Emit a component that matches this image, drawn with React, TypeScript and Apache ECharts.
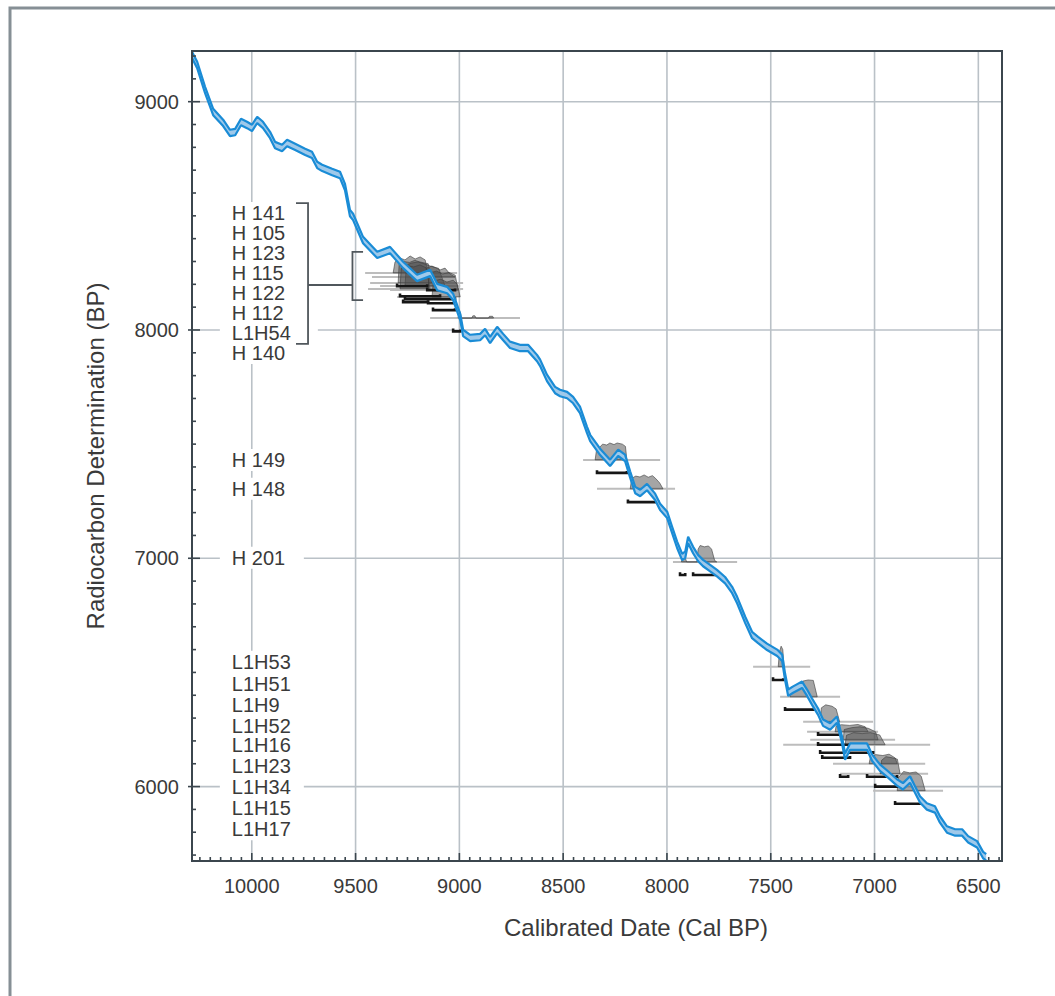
import React, { useEffect, useRef } from "react";
import * as echarts from "echarts";

// ---------- axis extents & ticks ----------
const X_MIN = 6386;
const X_MAX = 10288;
const Y_MIN = 5674;
const Y_MAX = 9222;
const xTickLabels = [10000, 9500, 9000, 8500, 8000, 7500, 7000, 6500];
const yTickLabels = [9000, 8000, 7000, 6000];
const xMinorStep = 50;
const yMinorStep = 100;

// ---------- calibration curve (cal BP, radiocarbon BP) ----------
const curve: [number, number][] = [
  [10288, 9205], [10263, 9161], [10225, 9051], [10186, 8955], [10138, 8907],
  [10105, 8863], [10080, 8867], [10052, 8911], [10023, 8898], [9999, 8885],
  [9974, 8920], [9946, 8898], [9912, 8854], [9888, 8810], [9854, 8797],
  [9830, 8819], [9791, 8802], [9743, 8780], [9710, 8767], [9685, 8723],
  [9661, 8710], [9613, 8692], [9575, 8679], [9551, 8626], [9527, 8512],
  [9512, 8495], [9464, 8394], [9396, 8329], [9334, 8350], [9271, 8285],
  [9204, 8228], [9141, 8250], [9107, 8188], [9059, 8175], [9030, 8145],
  [8996, 8057], [8982, 7987], [8948, 7965], [8900, 7969], [8876, 7991],
  [8852, 7956], [8818, 8000], [8789, 7969], [8756, 7935], [8708, 7921],
  [8669, 7921], [8626, 7877], [8611, 7856], [8578, 7790], [8539, 7737],
  [8515, 7724], [8481, 7715], [8452, 7693], [8419, 7650], [8385, 7562],
  [8370, 7527], [8322, 7466], [8274, 7418], [8235, 7462], [8202, 7440],
  [8177, 7366], [8153, 7299], [8129, 7286], [8096, 7312], [8057, 7269],
  [8033, 7225], [7999, 7190], [7975, 7124], [7951, 7059], [7927, 7006],
  [7912, 7015], [7898, 7080], [7874, 7036], [7850, 7001], [7826, 6979],
  [7792, 6957], [7759, 6935], [7720, 6904], [7686, 6861], [7662, 6817],
  [7623, 6730], [7590, 6664], [7561, 6642], [7518, 6612], [7469, 6586],
  [7445, 6564], [7431, 6481], [7416, 6411], [7392, 6425], [7349, 6446],
  [7325, 6411], [7301, 6372], [7272, 6328], [7248, 6280], [7214, 6263],
  [7181, 6293], [7157, 6206], [7142, 6131], [7118, 6175], [7080, 6175],
  [7036, 6175], [7012, 6127], [6974, 6083], [6935, 6053], [6892, 6018],
  [6863, 6001], [6829, 6031], [6805, 5987], [6781, 5944], [6748, 5913],
  [6709, 5900], [6685, 5856], [6651, 5812], [6612, 5799], [6578, 5799],
  [6549, 5769], [6506, 5747], [6477, 5700], [6462, 5690],
];
const curveSigma = 14;

// ---------- samples: measured age line, its cal extent, probability shape ----------
const sampleBP = [8250, 8232, 8206, 8193, 8180, 8175, 8145, 8052, 7431, 7304, 6984,
  6525, 6393, 6284, 6240, 6205, 6183, 6100, 6056, 5982];
const sampleFrom = [9454, 9421, 9430, 9382, 9440, 9334, 9300, 9141, 8404, 8337, 7971,
  7585, 7455, 7344, 7325, 7310, 7440, 7200, 7166, 7007];
const sampleTo = [9011, 9021, 8982, 8996, 8982, 8996, 9021, 8708, 8033, 7961, 7662,
  7310, 7166, 7007, 6983, 6901, 6732, 6756, 6742, 6670];
const sampleDist: [number, number][][] = [
  [[9319, 8250], [9310, 8298], [9286, 8315], [9262, 8307], [9237, 8324], [9213, 8311], [9189, 8320], [9165, 8307], [9151, 8250]],
  [[9165, 8232], [9160, 8271], [9132, 8280], [9093, 8263], [9069, 8271], [9045, 8245], [9021, 8232]],
  [[9295, 8206], [9290, 8290], [9270, 8300], [9240, 8296], [9215, 8305], [9190, 8298], [9150, 8290], [9132, 8206]],
  [[9262, 8193], [9255, 8285], [9230, 8293], [9200, 8298], [9170, 8290], [9140, 8280], [9100, 8270], [9069, 8193]],
  [[9286, 8180], [9280, 8270], [9250, 8282], [9220, 8276], [9190, 8285], [9160, 8272], [9141, 8180]],
  [[9151, 8175], [9145, 8250], [9110, 8258], [9080, 8245], [9050, 8252], [9020, 8240], [9006, 8175]],
  [[9132, 8145], [9125, 8215], [9090, 8222], [9060, 8210], [9030, 8218], [9010, 8200], [8996, 8145]],
  [[9006, 8052], [9003, 8075], [8996, 8080], [8990, 8052], [8940, 8052], [8935, 8062], [8925, 8062], [8920, 8052], [8860, 8052], [8855, 8060], [8840, 8060], [8835, 8052]],
  [[8346, 7431], [8340, 7470], [8322, 7488], [8310, 7500], [8290, 7496], [8275, 7505], [8255, 7498], [8240, 7505], [8215, 7500], [8200, 7490], [8193, 7431]],
  [[8177, 7304], [8170, 7350], [8150, 7360], [8130, 7356], [8110, 7365], [8090, 7355], [8070, 7362], [8055, 7350], [8035, 7330], [8019, 7304]],
  [[7930, 6984], [7927, 7002], [7912, 7002], [7905, 6984], [7855, 6984], [7850, 7040], [7840, 7056], [7820, 7050], [7800, 7054], [7785, 7040], [7770, 6990], [7760, 6984]],
  [[7464, 6525], [7458, 6590], [7450, 6615], [7442, 6600], [7436, 6525]],
  [[7407, 6393], [7402, 6435], [7380, 6441], [7360, 6438], [7345, 6462], [7320, 6467], [7295, 6465], [7276, 6393]],
  [[7262, 6284], [7256, 6345], [7235, 6358], [7205, 6352], [7185, 6340], [7168, 6284]],
  [[7190, 6240], [7185, 6265], [7160, 6271], [7120, 6268], [7080, 6272], [7045, 6262], [7031, 6240]],
  [[7151, 6205], [7146, 6250], [7110, 6258], [7070, 6262], [7030, 6255], [6995, 6240], [6983, 6205]],
  [[7142, 6183], [7135, 6225], [7100, 6236], [7060, 6232], [7020, 6236], [6975, 6226], [6949, 6183]],
  [[7026, 6100], [7020, 6130], [6995, 6140], [6960, 6136], [6930, 6142], [6900, 6125], [6891, 6100]],
  [[6973, 6056], [6966, 6115], [6945, 6131], [6915, 6126], [6890, 6120], [6877, 6056]],
  [[6891, 5982], [6884, 6040], [6860, 6066], [6830, 6060], [6800, 6064], [6775, 6045], [6756, 5982]],
];

// ---------- calibrated ranges: [from cal, to cal, level BP] ----------
const ranges: [number, number, number][] = [
  [9300, 9155, 8192], [9155, 9021, 8174], [9286, 9093, 8148], [9262, 9021, 8135],
  [9271, 9151, 8122], [9151, 9021, 8117], [9127, 9021, 8087], [9030, 8996, 7994],
  [8337, 8193, 7374], [8188, 8043, 7246],
  [7937, 7912, 6927], [7874, 7754, 6927],
  [7489, 7440, 6467], [7431, 7286, 6337], [7272, 7166, 6227], [7272, 7118, 6183],
  [7262, 7007, 6148], [7252, 7118, 6126], [7166, 7127, 6043], [7036, 6891, 6043],
  [6997, 6891, 6000], [6901, 6771, 5925],
];

// ---------- sample labels ----------
const labelNames = ["H 141", "H 105", "H 123", "H 115", "H 122", "H 112", "L1H54", "H 140",
  "H 149", "H 148", "H 201",
  "L1H53", "L1H51", "L1H9", "L1H52", "L1H16", "L1H23", "L1H34", "L1H15", "L1H17"];
const labelBP = [8512, 8425, 8337, 8250, 8162, 8075, 7987, 7899,
  7431, 7304, 7002,
  6547, 6451, 6359, 6267, 6180, 6088, 6000, 5905, 5813];
const labelCal = 10096;

// ---------- grouping brackets ----------
const brackets: [number, number][][] = [
  [[9787, 8556], [9729, 8556], [9729, 7939], [9787, 7939]],
  [[9729, 8197], [9515, 8197]],
  [[9464, 8342], [9515, 8342], [9515, 8131], [9464, 8131]],
];

const FONT = '"Liberation Sans", Arial, Helvetica, sans-serif';
const TEXT_COLOR = "#3a3a3a";
const GRID_COLOR = "#bac1c7";
const FRAME_COLOR = "#3b464e";
const BLUE = "#1a8cd6";

function seg(a: number[], b: number[], style: any) {
  return { type: "line", shape: { x1: a[0], y1: a[1], x2: b[0], y2: b[1] }, style };
}

function buildOption(): any {
  const upper = curve.map(([c, b]) => [c, b + curveSigma]);
  const lower = curve.map(([c, b]) => [c, b - curveSigma]);
  const single = [[X_MAX, Y_MAX]];

  const gridSeries = {
    type: "custom",
    coordinateSystem: "cartesian2d",
    silent: true,
    z: 1,
    data: single,
    renderItem: (_p: any, api: any) => {
      const children: any[] = [];
      const st = { stroke: GRID_COLOR, lineWidth: 1.6 };
      xTickLabels.forEach((v) => children.push(seg(api.coord([v, Y_MIN]), api.coord([v, Y_MAX]), st)));
      yTickLabels.forEach((v) => children.push(seg(api.coord([X_MAX, v]), api.coord([X_MIN, v]), st)));
      return { type: "group", children };
    },
  };

  const greyLineSeries = {
    type: "custom",
    coordinateSystem: "cartesian2d",
    silent: true,
    z: 3,
    data: sampleBP.map((bp, i) => [sampleFrom[i], bp, sampleTo[i]]),
    renderItem: (_p: any, api: any) =>
      seg(api.coord([api.value(0), api.value(1)]), api.coord([api.value(2), api.value(1)]), {
        stroke: "#bdbdbd",
        lineWidth: 2,
      }),
  };

  const distSeries = {
    type: "custom",
    coordinateSystem: "cartesian2d",
    silent: true,
    z: 4,
    data: sampleBP.map((bp, i) => [sampleFrom[i], bp]),
    renderItem: (p: any, api: any) => ({
      type: "polygon",
      shape: { points: sampleDist[p.dataIndex].map((pt) => api.coord(pt)) },
      style: { fill: "rgba(75,75,75,0.5)", stroke: "rgba(60,60,60,0.6)", lineWidth: 1 },
    }),
  };

  const rangeSeries = {
    type: "custom",
    coordinateSystem: "cartesian2d",
    silent: true,
    z: 5,
    data: ranges.map((r) => [r[0], r[2], r[1]]),
    renderItem: (_p: any, api: any) => {
      const f = api.value(0), bp = api.value(1), t = api.value(2);
      return {
        type: "polyline",
        shape: {
          points: [api.coord([f, bp + 12]), api.coord([f, bp]), api.coord([t, bp]), api.coord([t, bp + 8])],
        },
        style: { stroke: "#161616", lineWidth: 2.6, fill: null },
      };
    },
  };

  const labelSeries = {
    type: "custom",
    coordinateSystem: "cartesian2d",
    silent: true,
    z: 6,
    data: labelBP.map((bp) => [labelCal, bp]),
    renderItem: (p: any, api: any) => {
      const pt = api.coord([api.value(0), api.value(1)]);
      const boxW = p.dataIndex < 8 ? 98 : 84;
      return {
        type: "group",
        children: [
          {
            type: "rect",
            shape: { x: pt[0] - 12, y: pt[1] - 11, width: boxW, height: 22 },
            style: { fill: "#ffffff", stroke: null },
          },
          {
            type: "text",
            x: pt[0],
            y: pt[1],
            style: {
              text: labelNames[p.dataIndex],
              fill: TEXT_COLOR,
              fontSize: 20,
              lineHeight: 18,
              fontFamily: FONT,
              align: "left",
              verticalAlign: "middle",
              textAlign: "left",
              textVerticalAlign: "middle",
            },
          },
        ],
      };
    },
  };

  const bracketSeries = {
    type: "custom",
    coordinateSystem: "cartesian2d",
    silent: true,
    z: 7,
    data: brackets.map((b) => b[0]),
    renderItem: (p: any, api: any) => ({
      type: "polyline",
      shape: { points: brackets[p.dataIndex].map((pt) => api.coord(pt)) },
      style: { stroke: "#50575c", lineWidth: 1.8, fill: null },
    }),
  };

  const bandSeries = {
    type: "custom",
    coordinateSystem: "cartesian2d",
    silent: true,
    z: 8,
    data: single,
    renderItem: (_p: any, api: any) => ({
      type: "polygon",
      shape: { points: upper.map((q) => api.coord(q)).concat(lower.slice().reverse().map((q) => api.coord(q))) },
      style: { fill: "#9fc9ea", stroke: null },
    }),
  };

  const lineStyle = { color: BLUE, width: 2.2 };
  const upperSeries = { type: "line", data: upper, showSymbol: false, silent: true, z: 9, lineStyle };
  const lowerSeries = { type: "line", data: lower, showSymbol: false, silent: true, z: 9, lineStyle };

  const axisSeries = {
    type: "custom",
    coordinateSystem: "cartesian2d",
    silent: true,
    z: 10,
    data: single,
    renderItem: (_p: any, api: any) => {
      const children: any[] = [];
      const tk = { stroke: FRAME_COLOR, lineWidth: 1.6 };
      const bl = api.coord([X_MAX, Y_MIN]);
      const tr = api.coord([X_MIN, Y_MAX]);
      for (let v = Math.ceil(X_MIN / xMinorStep) * xMinorStep; v <= X_MAX; v += xMinorStep) {
        if (xTickLabels.includes(v)) continue;
        const q = api.coord([v, Y_MIN]);
        children.push(seg(q, [q[0], q[1] - 4], tk));
      }
      for (let v = Math.ceil(Y_MIN / yMinorStep) * yMinorStep; v <= Y_MAX; v += yMinorStep) {
        if (yTickLabels.includes(v)) continue;
        const q = api.coord([X_MAX, v]);
        children.push(seg(q, [q[0] + 4, q[1]], tk));
      }
      xTickLabels.forEach((v) => {
        const q = api.coord([v, Y_MIN]);
        children.push(seg(q, [q[0], q[1] - 8], tk));
        children.push({
          type: "text",
          x: q[0],
          y: q[1] + 25,
          style: {
            text: String(v), fill: TEXT_COLOR, fontSize: 20, fontFamily: FONT,
            align: "center", verticalAlign: "middle", textAlign: "center", textVerticalAlign: "middle",
          },
        });
      });
      yTickLabels.forEach((v) => {
        const q = api.coord([X_MAX, v]);
        children.push(seg([q[0] - 4, q[1]], [q[0] + 8, q[1]], tk));
        children.push({
          type: "text",
          x: q[0] - 13,
          y: q[1],
          style: {
            text: String(v), fill: TEXT_COLOR, fontSize: 20, fontFamily: FONT,
            align: "right", verticalAlign: "middle", textAlign: "right", textVerticalAlign: "middle",
          },
        });
      });
      children.push({
        type: "rect",
        shape: { x: bl[0], y: tr[1], width: tr[0] - bl[0], height: bl[1] - tr[1] },
        style: { fill: null, stroke: FRAME_COLOR, lineWidth: 2 },
      });
      return { type: "group", children };
    },
  };

  return {
    animation: false,
    backgroundColor: "#ffffff",
    grid: { left: 192, top: 51, right: 53, bottom: 135 },
    xAxis: {
      type: "value", inverse: true, min: X_MIN, max: X_MAX,
      axisLine: { show: false }, axisTick: { show: false }, axisLabel: { show: false }, splitLine: { show: false },
    },
    yAxis: {
      type: "value", min: Y_MIN, max: Y_MAX,
      axisLine: { show: false }, axisTick: { show: false }, axisLabel: { show: false }, splitLine: { show: false },
    },
    graphic: [
      {
        type: "rect", silent: true, z: 0,
        shape: { x: 10, y: 8, width: 1200, height: 1200 },
        style: { fill: null, stroke: "#868f95", lineWidth: 3 },
      },
      {
        type: "text", x: 636, y: 927, silent: true,
        style: {
          text: "Calibrated Date (Cal BP)", fill: TEXT_COLOR, fontSize: 24, fontFamily: FONT,
          align: "center", verticalAlign: "middle", textAlign: "center", textVerticalAlign: "middle",
        },
      },
      {
        type: "text", x: 95, y: 456, rotation: Math.PI / 2, silent: true,
        style: {
          text: "Radiocarbon Determination (BP)", fill: TEXT_COLOR, fontSize: 24, fontFamily: FONT,
          align: "center", verticalAlign: "middle", textAlign: "center", textVerticalAlign: "middle",
        },
      },
    ],
    series: [gridSeries, greyLineSeries, distSeries, rangeSeries, labelSeries, bracketSeries, bandSeries, upperSeries, lowerSeries, axisSeries],
  };
}

export default function App() {
  const ref = useRef<HTMLDivElement>(null);
  useEffect(() => {
    document.body.style.margin = "0";
    const chart = echarts.init(ref.current as HTMLDivElement, undefined, { renderer: "svg" });
    chart.setOption(buildOption());
    return () => chart.dispose();
  }, []);
  return <div ref={ref} style={{ width: 1055, height: 996, background: "#ffffff" }} />;
}
